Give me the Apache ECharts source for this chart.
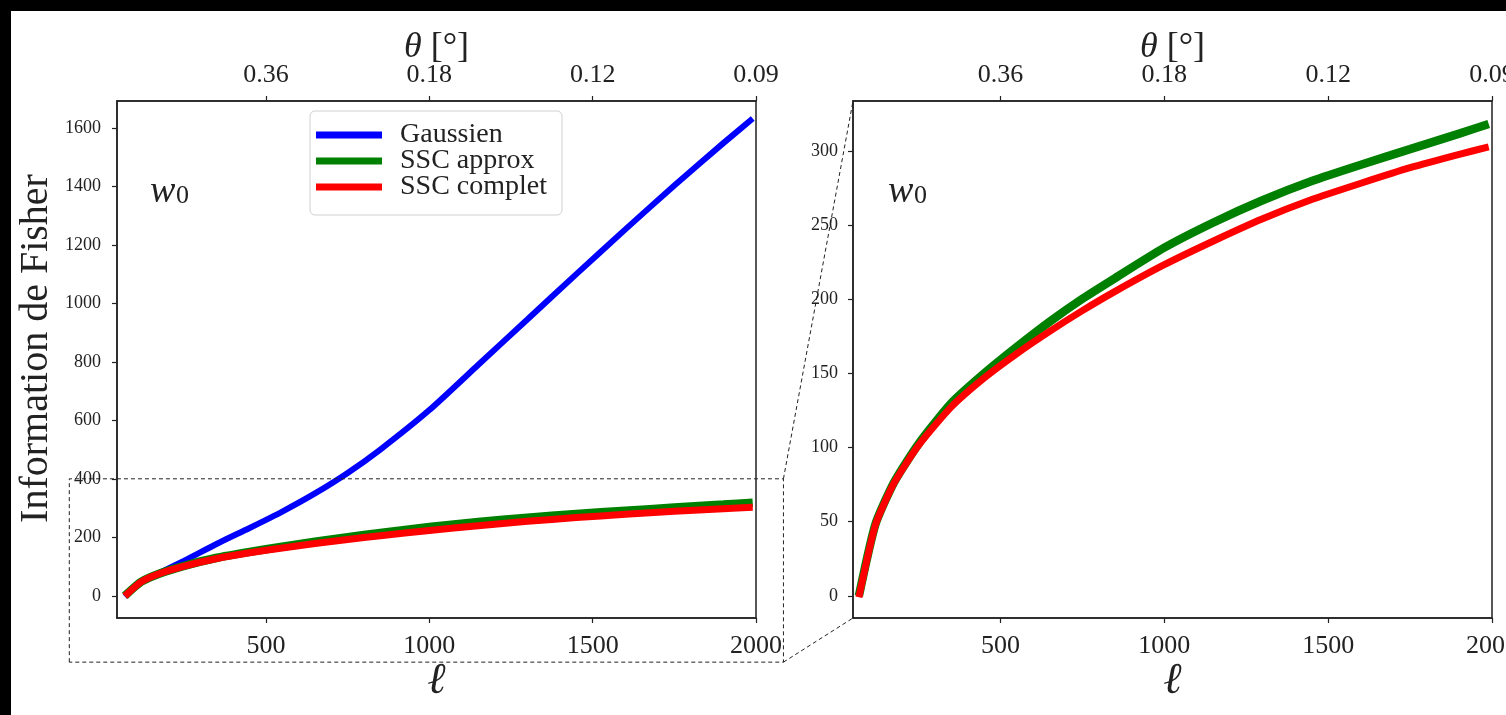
<!DOCTYPE html>
<html>
<head>
<meta charset="utf-8">
<script src="https://cdn.jsdelivr.net/npm/echarts@6/dist/echarts.min.js"></script>
<style>
  html, body { margin: 0; padding: 0; background: #000; }
  #chart { position: absolute; left: 11px; top: 11px; width: 1495px; height: 704px; background: #fff; }
</style>
</head>
<body>
<div id="chart"></div>
<script>
// multipoles ℓ and Fisher information for w0
const ell = [68, 118, 175, 250, 350, 450, 550, 650, 750, 850, 1000, 1150, 1300, 1450, 1600, 1750, 1900, 1990]
const gaussien = [-3, 48, 79, 120, 178, 232, 288, 350, 420, 500, 635, 790, 945, 1100, 1253, 1403, 1548, 1632]
const sscApprox = [0, 48, 76.5, 102.5, 130, 150, 168, 185, 200.5, 214.5, 235, 252, 267, 280, 291, 301.5, 312, 318.5]
const sscComplet = [-1, 47.5, 76, 101.5, 127.5, 147, 163.5, 178.5, 192.5, 205.5, 223.5, 239.5, 254.5, 267.5, 278.5, 289, 298, 303]

const ellTicks = [500, 1000, 1500, 2000]
const thetaLabels = ['0.36', '0.18', '0.12', '0.09']
const yTicksLeft = [0, 200, 400, 600, 800, 1000, 1200, 1400, 1600]
const yTicksRight = [0, 50, 100, 150, 200, 250, 300]

// zoom box drawn on the left panel (left-panel data units)
const insetBox = [[-102, -227], [2084, 400]]

const FONT = 'Liberation Serif'
const INK = '#222'

const pairs = (ys) => ell.map((l, i) => [l, ys[i]])
const plain = (v) => String(v)

const chart = echarts.init(document.getElementById('chart'), null, {renderer: 'canvas'})

function xAxisBottom(grid, min) {
  return {
    type: 'value', gridIndex: grid, position: 'bottom', min: min, max: 2000,
    name: 'ℓ', nameLocation: 'middle', nameGap: 41, nameMoveOverlap: false,
    nameTextStyle: {fontFamily: FONT, fontStyle: 'italic', fontSize: 44, color: INK},
    axisLine: {show: true, onZero: false, lineStyle: {color: INK, width: 1.5}},
    axisTick: {show: true, length: 5, customValues: ellTicks, lineStyle: {color: INK, width: 1.2}},
    axisLabel: {customValues: ellTicks, margin: 15, fontFamily: FONT, fontSize: 26, color: INK, formatter: plain},
    splitLine: {show: false}
  }
}

function xAxisTop(grid, min) {
  return {
    type: 'value', gridIndex: grid, position: 'top', min: min, max: 2000,
    name: '{t|θ} [°]', nameLocation: 'middle', nameGap: 35, nameMoveOverlap: false,
    nameTextStyle: {
      fontFamily: FONT, fontSize: 36, color: INK,
      rich: {t: {fontFamily: FONT, fontStyle: 'italic', fontSize: 36, color: INK}}
    },
    axisLine: {show: true, onZero: false, lineStyle: {color: INK, width: 1.5}},
    axisTick: {show: true, length: 5, customValues: ellTicks, lineStyle: {color: INK, width: 1.2}},
    axisLabel: {
      customValues: ellTicks, margin: 13, fontFamily: FONT, fontSize: 26, color: INK,
      formatter: (v) => thetaLabels[ellTicks.indexOf(v)]
    },
    splitLine: {show: false}
  }
}

function yAxis(grid, min, max, ticks, margin, title) {
  return {
    type: 'value', gridIndex: grid, min: min, max: max,
    name: title || '', nameLocation: 'middle', nameGap: 61, nameMoveOverlap: false,
    nameTextStyle: {fontFamily: FONT, fontSize: 40, color: INK, padding: [0, 0, 0, 22]},
    axisLine: {show: true, onZero: false, lineStyle: {color: INK, width: 1.5}},
    axisTick: {show: true, length: 5, customValues: ticks, lineStyle: {color: INK, width: 1.2}},
    axisLabel: {customValues: ticks, margin: margin, fontFamily: FONT, fontSize: 18, color: INK, formatter: plain},
    splitLine: {show: false}
  }
}

function line(name, data, xi, yi, color, width) {
  return {
    name: name, type: 'line', data: data, xAxisIndex: xi, yAxisIndex: yi,
    showSymbol: false, smooth: 0.2,
    lineStyle: {color: color, width: width, cap: 'butt'},
    itemStyle: {color: color}, animation: false
  }
}

chart.setOption({
  animation: false,
  backgroundColor: '#fff',
  grid: [
    {left: 106, top: 90, width: 639, height: 517, show: true, borderColor: INK, borderWidth: 1.5, containLabel: false, outerBoundsMode: 'none'},
    {left: 842, top: 90, width: 639, height: 517, show: true, borderColor: INK, borderWidth: 1.5, containLabel: false, outerBoundsMode: 'none'}
  ],
  xAxis: [xAxisBottom(0, 44), xAxisTop(0, 44), xAxisBottom(1, 50), xAxisTop(1, 50)],
  yAxis: [
    yAxis(0, -76, 1692, yTicksLeft, 16, 'Information de Fisher'),
    yAxis(1, -15, 334, yTicksRight, 15)
  ],
  legend: {
    left: 299, top: 100, orient: 'vertical',
    data: [
      {name: 'Gaussien', icon: 'rect', itemStyle: {color: '#0000ff'}},
      {name: 'SSC approx', icon: 'rect', itemStyle: {color: '#008000'}},
      {name: 'SSC complet', icon: 'rect', itemStyle: {color: '#ff0000'}}
    ],
    itemWidth: 66, itemHeight: 7, itemGap: -2,
    padding: [10, 15, 14, 6],
    borderColor: '#d0d0d0', borderWidth: 1, borderRadius: 5, backgroundColor: 'rgba(255,255,255,0.8)',
    textStyle: {fontFamily: FONT, fontSize: 28, color: INK, lineHeight: 25, padding: [0, 0, 0, 13]},
    selectedMode: false
  },
  series: [
    line('Gaussien', pairs(gaussien), 0, 0, '#0000ff', 6),
    line('SSC approx', pairs(sscApprox), 0, 0, '#008000', 8.5),
    line('SSC complet', pairs(sscComplet), 0, 0, '#ff0000', 7),
    line('SSC approx', pairs(sscApprox), 2, 1, '#008000', 8.5),
    line('SSC complet', pairs(sscComplet), 2, 1, '#ff0000', 7)
  ]
})

// dashed zoom box and connectors to the right panel
const p = (g, v) => chart.convertToPixel({gridIndex: g}, v)
const bl = p(0, insetBox[0])
const tr = p(0, insetBox[1])
const rTop = p(1, [50, 334])
const rBot = p(1, [50, -15])
const dash = {stroke: INK, lineWidth: 1, lineDash: [4, 3], fill: null}

function w0(x) {
  return [
    {type: 'text', left: x, top: 162, z: 10,
      style: {text: 'w', font: 'italic 38px "Liberation Serif"', fill: INK}},
    {type: 'text', left: x + 26, top: 172, z: 10,
      style: {text: '0', font: '26px "Liberation Serif"', fill: INK}}
  ]
}

chart.setOption({
  graphic: [
    {type: 'polyline', z: 20, silent: true,
      shape: {points: [[bl[0], bl[1]], [bl[0], tr[1]], [tr[0], tr[1]], [tr[0], bl[1]], [bl[0], bl[1]]]}, style: dash},
    {type: 'line', z: 20, silent: true, shape: {x1: tr[0], y1: tr[1], x2: rTop[0], y2: rTop[1]}, style: dash},
    {type: 'line', z: 20, silent: true, shape: {x1: tr[0], y1: bl[1], x2: rBot[0], y2: rBot[1]}, style: dash}
  ].concat(w0(139), w0(877))
})
</script>
</body>
</html>
